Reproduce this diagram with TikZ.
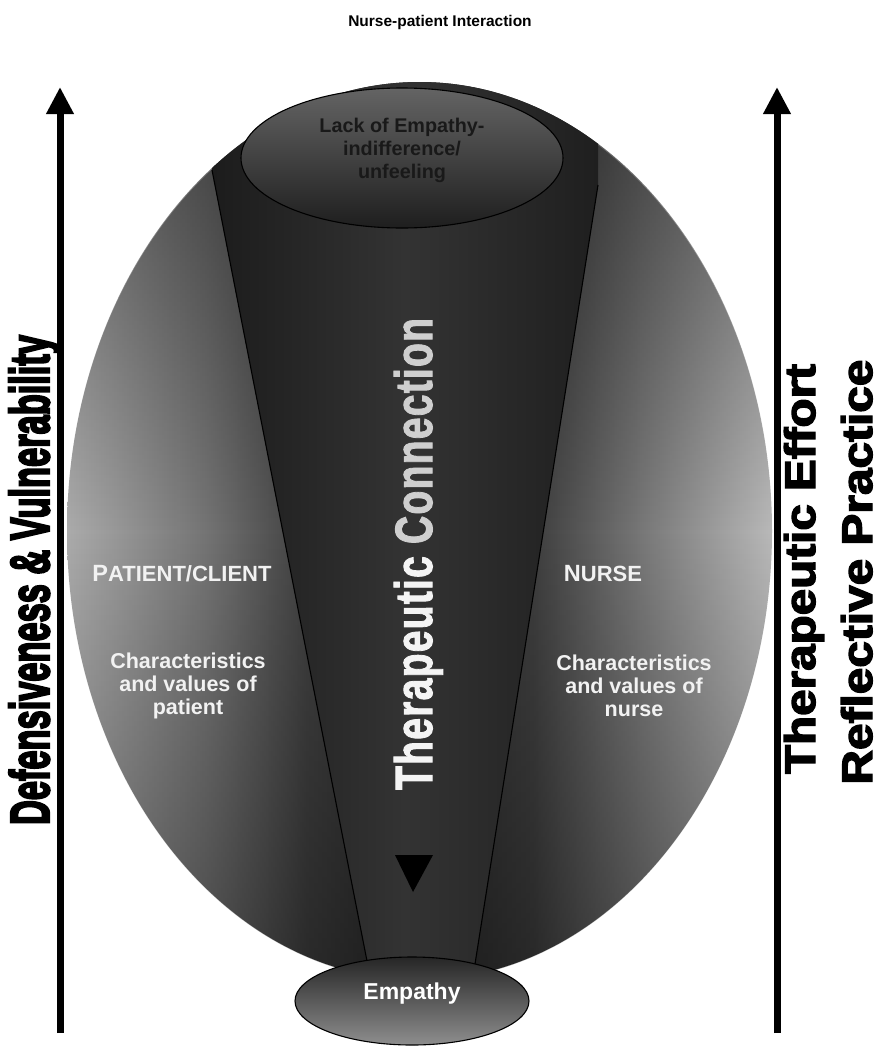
\documentclass[tikz,border=0pt]{standalone}
\usepackage{fontspec}
\setmainfont{Liberation Sans}
\newfontfamily\heavy[BoldFeatures={FakeBold=3}]{Liberation Sans}
\newfontfamily\heavier[BoldFeatures={FakeBold=4.5}]{Liberation Sans}
\newfontfamily\spaced[LetterSpace=3,BoldFeatures={FakeBold=2}]{Liberation Sans}
\usetikzlibrary{arrows.meta,shapes.geometric,fadings}

% grey ramp across the large oval: light rim, dark middle
\definecolor{ov1}{HTML}{ABABAB}
\definecolor{ov2}{HTML}{737373}
\definecolor{ov3}{HTML}{404040}
\definecolor{ov4}{HTML}{262626}
\definecolor{ov5}{HTML}{3E3E3E}
\definecolor{ov6}{HTML}{727272}
\definecolor{ov7}{HTML}{B9B9B9}
\pgfdeclarehorizontalshading{ovalshade}{100bp}{color(0bp)=(ov1); color(25bp)=(ov1); color(35bp)=(ov2); color(42bp)=(ov3); color(50bp)=(ov4); color(58bp)=(ov5); color(65bp)=(ov6); color(75bp)=(ov7); color(100bp)=(ov7)}

% the channel between the two slanted lines
\definecolor{ch1}{HTML}{1C1C1C}
\definecolor{ch2}{HTML}{333333}
\definecolor{ch3}{HTML}{1F1F1F}
\pgfdeclarehorizontalshading{channelshade}{100bp}{color(0bp)=(ch1); color(25bp)=(ch1); color(50bp)=(ch2); color(75bp)=(ch3); color(100bp)=(ch3)}

% darker towards the top and bottom of the oval
\tikzfading[name=rimfade, top color=transparent!55, bottom color=transparent!65, middle color=transparent!100]

\definecolor{capTop}{HTML}{646464}
\definecolor{capBot}{HTML}{1E1E1E}
\definecolor{baseTop}{HTML}{262626}
\definecolor{baseBot}{HTML}{8E8E8E}
\definecolor{tcA}{HTML}{F4F4F4}
\definecolor{tcB}{HTML}{CFCFCF}
\definecolor{inktext}{HTML}{F2F2F2}

\tikzset{
  sidelabel/.style={rotate=90, anchor=base, inner sep=0pt, text=black},
  whitetext/.style={text=inktext, font=\bfseries, align=center, inner sep=0pt},
  outline/.style={draw=black, line width=1.1pt},
  axisarrow/.style={line width=7pt, -{Triangle[width=26pt,length=27pt]}},
  edge/.style={line width=1.1pt, draw=black}
}

\begin{document}
\begin{tikzpicture}[x=1pt,y=-1pt]
\useasboundingbox (0,0) rectangle (882,1047);
\fill[white] (0,0) rectangle (882,1047);

% title
\node[font=\bfseries\fontsize{15.5}{18}\selectfont] (title) at (440,22) {Nurse-patient Interaction};

% large oval
\coordinate (oc) at (419.5,531);
\shade[shading=ovalshade] (oc) ellipse [x radius=352.5pt, y radius=449pt];
\fill[black, path fading=rimfade] (oc) ellipse [x radius=352.5pt, y radius=449pt];

% channel
\coordinate (fl1) at (212,170);
\coordinate (fl2) at (367,961);
\coordinate (fr1) at (598,185);
\coordinate (fr2) at (475,964);
\begin{scope}
  \clip (oc) ellipse [x radius=352.5pt, y radius=449pt];
  \shade[shading=channelshade] (fl1) -- (fl2) -- (fr2) -- (fr1) -- (598,60) -- (212,60) -- cycle;
\end{scope}
\draw[edge] (fl1) -- (fl2);
\draw[edge] (fr1) -- (fr2);

% downward marker
\fill[black] (395,855) -- (433,855) -- (413,892) -- cycle;

% top cap
\node[ellipse, outline, minimum width=322pt, minimum height=140pt, inner sep=0pt,
      top color=capTop, bottom color=capBot] (lack) at (402,158) {};
\node[font=\bfseries\fontsize{19.8}{23}\selectfont, text=black!90, align=center] (lacktext) at (402,150)
  {Lack of Empathy-\\indifference/\\unfeeling};

% bottom cap
\node[ellipse, outline, minimum width=234pt, minimum height=88pt, inner sep=0pt,
      top color=baseTop, bottom color=baseBot] (emp) at (412,1001) {};
\node[whitetext, font=\bfseries\fontsize{23}{26}\selectfont, text=white] (emptext) at (412,994) {Empathy};

% centre label
\node[sidelabel] (conn) at (432,554)
  {\resizebox{472pt}{38pt}{\fontsize{40}{40}\spaced\bfseries\textcolor{tcA}{Therapeutic} \textcolor{tcB}{Connection}}};

% patient side
\node[whitetext] (pc) at (182,574)
  {\fontsize{23.5}{24}\selectfont P\fontsize{22}{22}\selectfont ATIENT/CLIENT};
\node[whitetext, font=\bfseries\fontsize{21.5}{23}\selectfont] (pcv) at (188,686)
  {Characteristics\\and values of\\patient};

% nurse side
\node[whitetext] (ns) at (603,574)
  {\fontsize{23.5}{24}\selectfont N\fontsize{22}{22}\selectfont URSE};
\node[whitetext, font=\bfseries\fontsize{21.5}{23}\selectfont] (nsv) at (634,686)
  {Characteristics\\and values of\\nurse};

% vertical axes
\coordinate (lb) at (60,1033);
\coordinate (lt) at (60,87);
\coordinate (rb) at (777,1033);
\coordinate (rt) at (777,87);
\draw[axisarrow] (lb) -- (lt);
\draw[axisarrow] (rb) -- (rt);

% axis labels
\node[sidelabel] (dv) at (49,580)
  {\resizebox{490pt}{40pt}{\fontsize{40}{40}\heavier\bfseries Defensiveness \& Vulnerability}};
\node[sidelabel] (te) at (815,569)
  {\resizebox{410pt}{31pt}{\fontsize{42}{42}\heavy\bfseries Therapeutic Effort}};
\node[sidelabel] (rp) at (872,572)
  {\resizebox{425pt}{31pt}{\fontsize{42}{42}\heavy\bfseries Reflective Practice}};
\end{tikzpicture}
\end{document}
